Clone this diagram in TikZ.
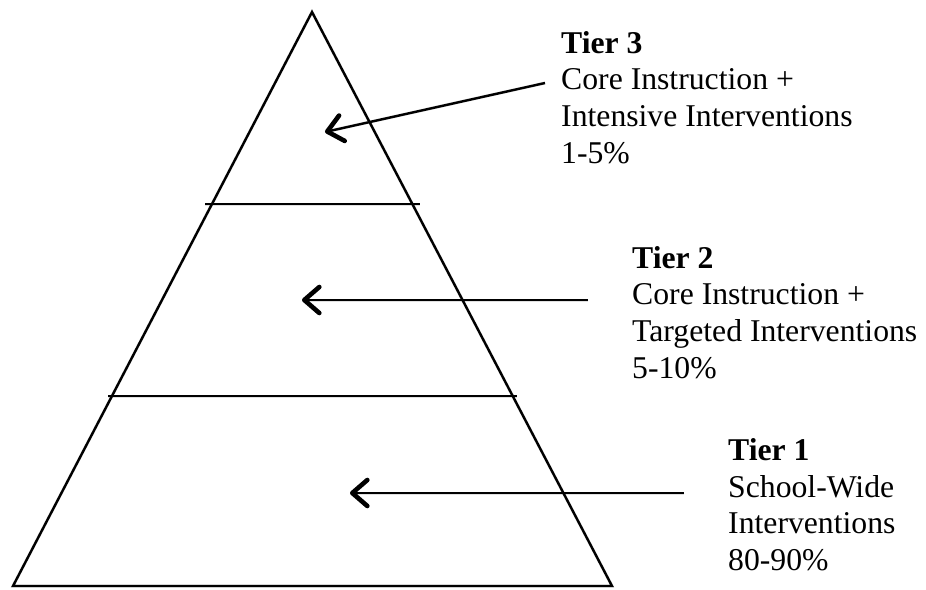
\documentclass[tikz,border=0pt]{standalone}
\usepackage{fontspec}
\setmainfont{Liberation Serif}
\usetikzlibrary{arrows.meta}
\begin{document}
\begin{tikzpicture}[x=1pt,y=-1pt,
  edge/.style={line width=2.4pt,line join=miter},
  shade/.style={line width=3pt,black,opacity=0.12,shift={(1.5,2.5)}},
  pointer/.style={line width=2.4pt,-{Straight Barb[length=15pt,width=26pt,line width=4.6pt,round]}},
  tierlabel/.style={anchor=north west,inner sep=0pt,align=left,font=\fontsize{31.7}{36.8}\selectfont}]
\useasboundingbox (0,0) rectangle (926,589);
% coordinates
\coordinate (apex) at (312,12);
\coordinate (bl) at (13,586);
\coordinate (br) at (612,586);
\coordinate (s1l) at (205,204);
\coordinate (s1r) at (420,204);
\coordinate (s2l) at (108,396);
\coordinate (s2r) at (517,396);
\coordinate (a3s) at (545,83);
\coordinate (a3e) at (325,132);
\coordinate (a2s) at (588,300);
\coordinate (a2e) at (302,300);
\coordinate (a1s) at (684,493);
\coordinate (a1e) at (350,493);
% soft shadows
\draw[shade] (apex) -- (bl) -- (br) -- cycle;
\draw[shade] (s1l) -- (s1r);
\draw[shade] (s2l) -- (s2r);
\draw[shade] (a3s) -- (a3e);
\draw[shade] (a2s) -- (a2e);
\draw[shade] (a1s) -- (a1e);
% pyramid
\draw[edge] (apex) -- (bl) -- (br) -- cycle;
% tier separators
\draw[edge] (s1l) -- (s1r);
\draw[edge] (s2l) -- (s2r);
% labels
\node[tierlabel] (t3) at (561,31) {\textbf{Tier 3}\\Core Instruction +\\Intensive Interventions\\1-5\%};
\node[tierlabel] (t2) at (632,246) {\textbf{Tier 2}\\Core Instruction +\\Targeted Interventions\\5-10\%};
\node[tierlabel] (t1) at (728,438) {\textbf{Tier 1}\\School-Wide\\Interventions\\80-90\%};
% arrows
\draw[pointer] (a3s) -- (a3e);
\draw[pointer] (a2s) -- (a2e);
\draw[pointer] (a1s) -- (a1e);
\end{tikzpicture}
\end{document}
